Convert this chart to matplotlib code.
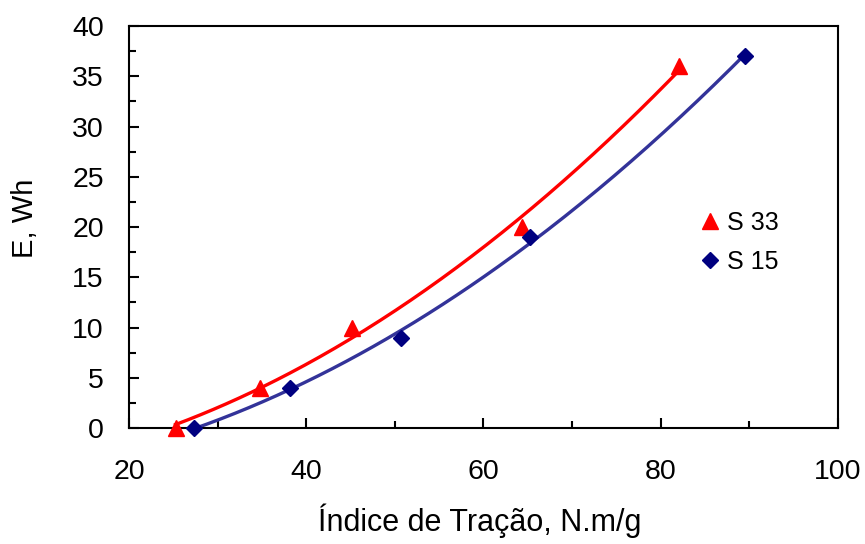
import numpy as np
import matplotlib
matplotlib.use("Agg")
import matplotlib.pyplot as plt
from matplotlib.ticker import MultipleLocator

# Data
s33_x = [25.25, 34.8, 45.2, 64.4, 82.1]
s33_y = [0, 4, 10, 20, 36]
s15_x = [27.3, 38.2, 50.7, 65.25, 89.45]
s15_y = [0, 4, 9, 19, 37]
x_ticks = [20, 40, 60, 80, 100]
y_ticks = [0, 5, 10, 15, 20, 25, 30, 35, 40]

plt.rcParams['font.family'] = ['Liberation Sans', 'DejaVu Sans']

fig = plt.figure(figsize=(8.65, 5.44), dpi=100)
ax = fig.add_axes([0.1491, 0.2132, 0.8197, 0.739])

def trend(xs, ys):
    c = np.polyfit(xs, ys, 2)
    xx = np.linspace(min(xs), max(xs), 200)
    return xx, np.polyval(c, xx)

xx, yy = trend(s33_x, s33_y)
ax.plot(xx, yy, color='#FF0000', lw=2.4, zorder=2)
xx, yy = trend(s15_x, s15_y)
ax.plot(xx, yy, color='#333399', lw=2.4, zorder=2)

ax.plot(s33_x, s33_y, linestyle='none', marker='^', color='#FF0000', markersize=11,
        label='S 33', zorder=3, clip_on=False)
ax.plot(s15_x, s15_y, linestyle='none', marker='D', color='#000080', markersize=8.5,
        label='S 15', zorder=3, clip_on=False)

ax.set_xlim(20, 100)
ax.set_ylim(0, 40)
ax.set_xticks(x_ticks)
ax.set_yticks(y_ticks)
ax.xaxis.set_minor_locator(MultipleLocator(10))
ax.yaxis.set_minor_locator(MultipleLocator(2.5))
ax.tick_params(which='both', direction='in', width=1.5, colors='black')
ax.tick_params(which='major', length=7, labelsize=20.5)
ax.tick_params(which='minor', length=5)
ax.tick_params(axis='y', which='major', pad=18)
ax.tick_params(axis='x', which='major', pad=22)
for s in ax.spines.values():
    s.set_linewidth(1.5)

ax.set_xlabel('Índice de Tração, N.m/g', fontsize=22)
ax.xaxis.set_label_coords(0.495, -0.256)
ax.xaxis.label.set_va('baseline')
ax.set_ylabel('E, Wh', fontsize=21)
ax.yaxis.set_label_coords(-0.1467, 0.522)
ax.yaxis.label.set_va('center')

leg = ax.legend(loc='center left', bbox_to_anchor=(0.805, 0.4614), frameon=False,
                fontsize=18, handlelength=0.8, handletextpad=0.3, labelspacing=0.6,
                borderpad=0, borderaxespad=0)

fig.savefig('out.png', dpi=100)
